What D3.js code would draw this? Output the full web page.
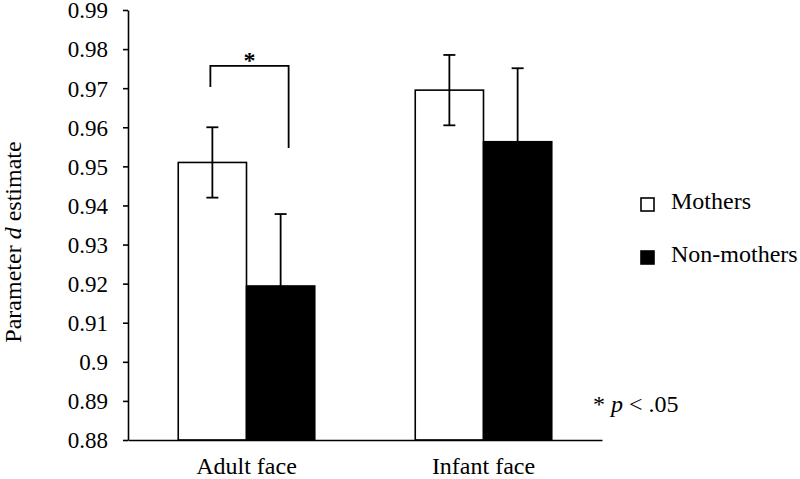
<!DOCTYPE html>
<html>
<head>
<meta charset="utf-8">
<script src="https://cdn.jsdelivr.net/npm/d3@7"></script>
<style>
  body { margin: 0; background: #ffffff; }
  text { font-family: "Liberation Serif", "Times New Roman", serif; }
</style>
</head>
<body>
<div id="body"></div>
<script>
// data
var groups = ['Adult face', 'Infant face'];
var seriesNames = ['Mothers', 'Non-mothers'];
var mothers = [0.951, 0.9695];
var nonMothers = [0.9194, 0.9563];
var mothersErr = [0.009, 0.009];
var nonMothersErr = [0.0184, 0.0188];
var yTicks = [0.88, 0.89, 0.90, 0.91, 0.92, 0.93, 0.94, 0.95, 0.96, 0.97, 0.98, 0.99];
// significance bracket (y values in data units)
var sigLeftEnd = 0.9703;
var sigTop = 0.9757;
var sigRightEnd = 0.9547;

var width = 800;
var height = 479;
var fills = ['#ffffff', '#000000'];
var serif = '"Liberation Serif", "Times New Roman", serif';

function makeChart () {
  var svg = d3.select('#body')
    .append('svg')
    .attr('width', width)
    .attr('height', height)
    .style('background', '#ffffff');

  var x = d3.scaleBand()
    .domain(groups)
    .range([128, 602])
    .paddingInner(0.424)
    .paddingOuter(0.212);

  var xSub = d3.scaleBand()
    .domain(seriesNames)
    .range([0, x.bandwidth()]);

  var y = d3.scaleLinear()
    .domain([0.88, 0.99])
    .range([440, 10]);

  // rows for each bar
  var rows = [];
  groups.forEach(function (g, i) {
    rows.push({group: g, series: 'Mothers', value: mothers[i], err: mothersErr[i], k: 0});
    rows.push({group: g, series: 'Non-mothers', value: nonMothers[i], err: nonMothersErr[i], k: 1});
  });

  // bars
  svg.append('g').selectAll('rect')
    .data(rows)
    .enter()
    .append('rect')
    .attr('x', function (d) { return x(d.group) + xSub(d.series); })
    .attr('y', function (d) { return y(d.value); })
    .attr('width', xSub.bandwidth())
    .attr('height', function (d) { return y(0.88) - y(d.value); })
    .style('fill', function (d) { return fills[d.k]; })
    .style('stroke', '#000')
    .style('stroke-width', 1.6);

  // error bars
  var eb = svg.append('g').selectAll('g')
    .data(rows)
    .enter()
    .append('g')
    .style('stroke', '#000')
    .style('stroke-width', 1.8);

  function cx (d) { return x(d.group) + xSub(d.series) + xSub.bandwidth() / 2; }

  eb.append('line')
    .attr('x1', cx).attr('x2', cx)
    .attr('y1', function (d) { return y(d.value + d.err); })
    .attr('y2', function (d) { return y(d.value - d.err); });
  eb.append('line')
    .attr('x1', function (d) { return cx(d) - 6; })
    .attr('x2', function (d) { return cx(d) + 6; })
    .attr('y1', function (d) { return y(d.value + d.err); })
    .attr('y2', function (d) { return y(d.value + d.err); });
  eb.append('line')
    .attr('x1', function (d) { return cx(d) - 6; })
    .attr('x2', function (d) { return cx(d) + 6; })
    .attr('y1', function (d) { return y(d.value - d.err); })
    .attr('y2', function (d) { return y(d.value - d.err); });

  // y axis
  var yAxis = d3.axisLeft(y)
    .tickValues(yTicks)
    .tickSize(5)
    .tickSizeOuter(0)
    .tickPadding(15)
    .tickFormat(function (d) { return String(+d.toFixed(2)); });

  var ya = svg.append('g')
    .attr('transform', 'translate(128,0)')
    .call(yAxis)
    .attr('font-family', serif);
  ya.selectAll('path, line').style('stroke', '#000').style('stroke-width', 1.6);
  ya.selectAll('text')
    .attr('dy', '0.34em')
    .style('font-family', serif)
    .style('font-size', '23px')
    .style('fill', '#000');

  // x axis: a plain line with the group labels
  var xa = svg.append('g')
    .attr('transform', 'translate(0,440)')
    .call(d3.axisBottom(x).tickSize(0).tickSizeOuter(0).tickPadding(0))
    .attr('font-family', serif);
  xa.select('.domain').style('stroke', '#000').style('stroke-width', 1.6);
  xa.selectAll('text')
    .attr('dy', '1.4em')
    .style('font-family', serif)
    .style('font-size', '24px')
    .style('fill', '#000');

  // y label
  var yl = svg.append('text')
    .attr('transform', 'translate(21,242) rotate(-90)')
    .attr('text-anchor', 'middle')
    .style('font-family', serif)
    .style('font-size', '24px')
    .style('fill', '#000');
  yl.append('tspan').text('Parameter ');
  yl.append('tspan').style('font-style', 'italic').text('d');
  yl.append('tspan').text(' estimate');

  // significance bracket between adult-face bars
  var lx = x(groups[0]) + xSub(seriesNames[0]) + xSub.bandwidth() / 2 - 2;
  var rx = x(groups[0]) + xSub(seriesNames[1]) + xSub.bandwidth() / 2 + 8;
  svg.append('path')
    .attr('d', 'M' + lx + ',' + y(sigLeftEnd) + 'V' + y(sigTop) + 'H' + rx + 'V' + y(sigRightEnd))
    .style('fill', 'none')
    .style('stroke', '#000')
    .style('stroke-width', 1.8);
  svg.append('text')
    .attr('x', (lx + rx) / 2)
    .attr('y', y(sigTop) + 2)
    .attr('text-anchor', 'middle')
    .style('font-family', serif)
    .style('font-size', '24px')
    .style('font-weight', 'bold')
    .text('*');

  return svg;
}

// legend on the right
function insertLegend (svg) {
  var legend = svg.append('g')
    .selectAll('g')
    .data(seriesNames)
    .enter()
    .append('g')
    .attr('transform', function (d, i) { return 'translate(641,' + (198 + i * 53) + ')'; });

  legend.append('rect')
    .attr('width', 13)
    .attr('height', 13)
    .style('fill', function (d, i) { return fills[i]; })
    .style('stroke', '#000')
    .style('stroke-width', 1.6);

  legend.append('text')
    .attr('x', 30)
    .attr('y', 11)
    .style('font-family', serif)
    .style('font-size', '24px')
    .style('fill', '#000')
    .text(function (d) { return d; });

  // p-value note
  var note = svg.append('text')
    .attr('x', 593)
    .attr('y', 412)
    .style('font-family', serif)
    .style('font-size', '24px')
    .style('fill', '#000');
  note.append('tspan').text('* ');
  note.append('tspan').style('font-style', 'italic').text('p');
  note.append('tspan').text(' < .05');
}

var svg = makeChart();
insertLegend(svg);
</script>
</body>
</html>
